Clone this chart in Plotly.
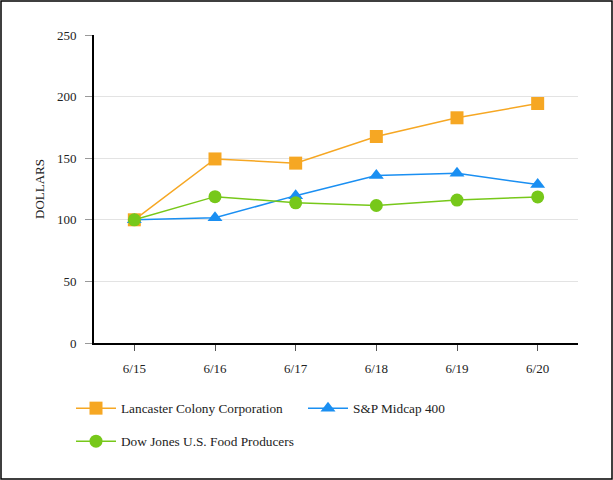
import plotly.graph_objects as go

categories = ["6/15", "6/16", "6/17", "6/18", "6/19", "6/20"]
lancaster = [100, 149.4, 146, 167.6, 182.8, 194.4]
sp_midcap = [100, 101.6, 119.6, 136, 137.8, 128.6]
dow_food = [100, 118.8, 113.8, 111.6, 116, 118.6]

W, H = 613, 480
L, R, T, B = 94, 35, 35, 137
pw, ph = W - L - R, H - T - B

font = "Liberation Serif, Times New Roman, serif"

def px_x(x):
    return (x - L) / pw

def px_y(y):
    return (T + ph - y) / ph

fig = go.Figure()
series = [
    ("Lancaster Colony Corporation", lancaster, "#F6A723", "square", "legend"),
    ("S&P Midcap 400", sp_midcap, "#1A8FF2", "triangle-up", "legend"),
    ("Dow Jones U.S. Food Producers", dow_food, "#77C81A", "circle", "legend2"),
]
for name, vals, col, sym, lg in series:
    fig.add_trace(go.Scatter(
        x=list(range(len(categories))), y=vals, name=name, mode="lines+markers",
        line=dict(color=col, width=1.5),
        marker=dict(symbol=sym, size=13, color=col, line=dict(width=0)),
        legend=lg,
    ))

legend_common = dict(
    orientation="h", xanchor="left", yanchor="top",
    font=dict(family=font, size=13.3, color="#222"),
    itemwidth=40, bgcolor="rgba(0,0,0,0)",
)

fig.update_layout(
    width=W, height=H,
    margin=dict(l=L, r=R, t=T, b=B),
    paper_bgcolor="white", plot_bgcolor="white",
    font=dict(family=font, size=13, color="#222"),
    showlegend=True,
    legend=dict(x=px_x(71), y=px_y(393), entrywidth=177, entrywidthmode="pixels", **legend_common),
    legend2=dict(x=px_x(71), y=px_y(426), **legend_common),
    xaxis=dict(
        tickmode="array", tickvals=list(range(len(categories))), ticktext=categories,
        range=[-0.5, 5.5], showgrid=False, zeroline=False,
        showline=True, linecolor="black", linewidth=2,
        ticks="outside", ticklen=6, tickcolor="#555", tickwidth=1,
        ticklabelstandoff=6,
        tickfont=dict(family=font, size=13, color="#222"),
    ),
    yaxis=dict(
        range=[0, 250], tickvals=[0, 50, 100, 150, 200, 250],
        showgrid=True, gridcolor="#e3e3e3", gridwidth=1, zeroline=False,
        showline=True, linecolor="black", linewidth=2,
        ticks="outside", ticklen=7, tickcolor="#999", tickwidth=1,
        ticklabelstandoff=6,
        tickfont=dict(family=font, size=13, color="#222"),
        title=dict(text="DOLLARS", font=dict(family=font, size=13, color="#222"), standoff=9),
    ),
    shapes=[dict(
        type="rect", xref="paper", yref="paper",
        x0=px_x(1), x1=px_x(W - 1),
        y0=px_y(H - 1), y1=px_y(1),
        line=dict(color="black", width=1.5), fillcolor="rgba(0,0,0,0)",
    )],
)

fig.write_html(
    "out.html",
    config={"displayModeBar": False},
    post_script="document.body.style.margin='0';document.body.style.overflow='hidden';",
)
